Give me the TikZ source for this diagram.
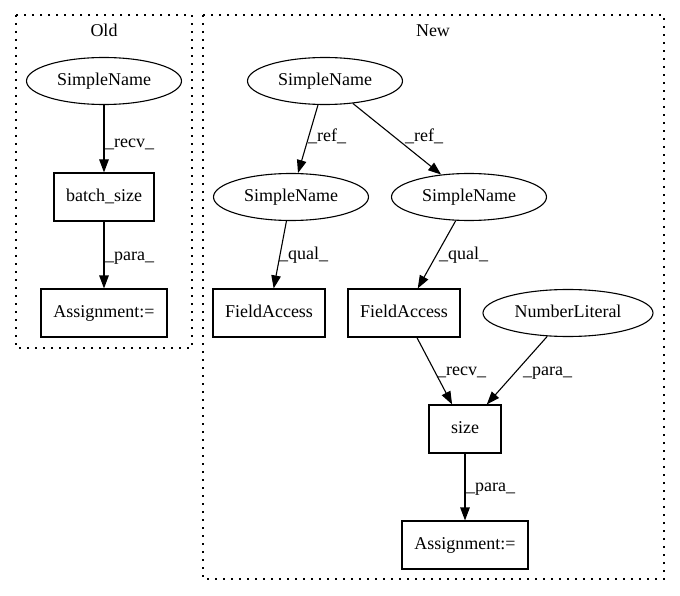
\documentclass[tikz,border=0pt]{standalone}
\usepackage{fontspec}
\setmainfont{Liberation Serif}
\usetikzlibrary{arrows.meta,shapes.geometric}
\begin{document}
\begin{tikzpicture}[x=1pt,y=-1pt,
  every node/.style={font=\fontsize{18}{21}\selectfont, inner sep=0pt},
  ell/.style={draw, ellipse, line width=1.1pt, minimum width=155pt, minimum height=47pt, text height=12.5pt, text depth=4pt},
  box/.style={draw, rectangle, line width=1.1pt, minimum height=48pt, text height=12.5pt, text depth=4pt},
  edge/.style={draw, line width=1.1pt, -{Triangle[length=13pt,width=9.5pt]}},
  lbl/.style={anchor=base west},
  cluster/.style={draw, dash pattern=on 2pt off 6pt, line width=1.1pt}]
\useasboundingbox (0,0) rectangle (680,596);
% clusters
\draw[cluster] (16,15) rectangle (192,348);
\draw[cluster] (203,15) rectangle (664,579);
\node[anchor=base] (oldlbl) at (104,37) {Old};
\node[anchor=base] (newlbl) at (433,37) {New};
% old
\node[ell] (o1) at (104,81) {SimpleName};
\node[box, minimum width=100pt] (o2) at (104,197) {batch\_size};
\node[box, minimum width=126pt] (o3) at (104,313) {Assignment:=};
% new
\node[ell] (n1) at (325,81) {SimpleName};
\node[ell] (n2) at (291,197) {SimpleName};
\node[ell] (n3) at (469,197) {SimpleName};
\node[box, minimum width=112pt] (n4) at (269,313) {FieldAccess};
\node[box, minimum width=112pt] (n5) at (404,313) {FieldAccess};
\node[ell, minimum width=170pt] (n6) at (568,313) {NumberLiteral};
\node[box, minimum width=72pt] (n7) at (465,429) {size};
\node[box, minimum width=126pt] (n8) at (465,545) {Assignment:=};
% edges
\draw[edge] (o1) -- (o2);
\node[lbl] (lo1) at (105,148) {\_recv\_};
\draw[edge] (o2) -- (o3);
\node[lbl] (lo2) at (105,261) {\_para\_};
\draw[edge] (n1) -- (n2);
\node[lbl] (l12) at (308,142) {\_ref\_};
\draw[edge] (n1) -- (n3);
\node[lbl] (l13) at (405,142) {\_ref\_};
\draw[edge] (n2) -- (n4);
\node[lbl] (l24) at (279,259) {\_qual\_};
\draw[edge] (n3) -- (n5);
\node[lbl] (l35) at (439,259) {\_qual\_};
\draw[edge] (n5) -- (n7);
\node[lbl] (l57) at (437,375) {\_recv\_};
\draw[edge] (n6) -- (n7);
\node[lbl] (l67) at (523,375) {\_para\_};
\draw[edge] (n7) -- (n8);
\node[lbl] (l78) at (466,491) {\_para\_};
\end{tikzpicture}
\end{document}
